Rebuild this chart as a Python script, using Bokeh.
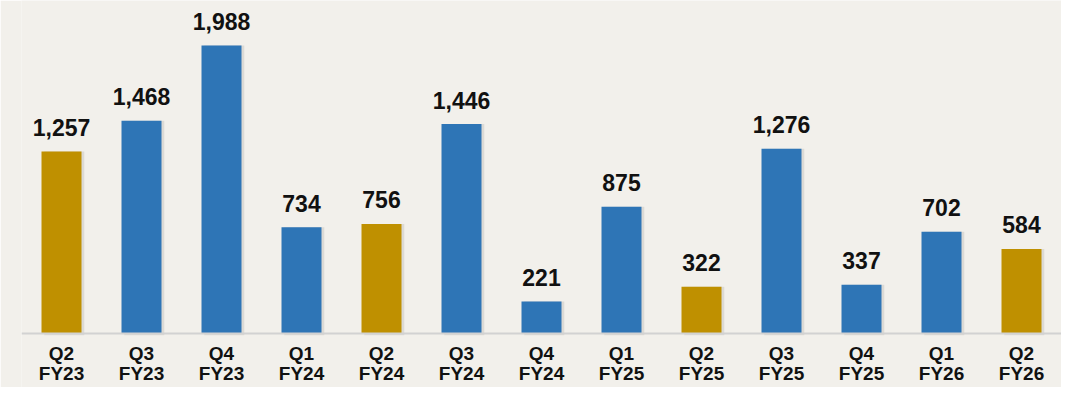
from bokeh.plotting import figure
from bokeh.models import ColumnDataSource, FactorRange, Range1d, Span
from bokeh.transform import dodge
from bokeh.core.properties import value
from bokeh.embed import file_html
from bokeh.resources import INLINE

quarters = ["Q2", "Q3", "Q4", "Q1", "Q2", "Q3", "Q4", "Q1", "Q2", "Q3", "Q4", "Q1", "Q2"]
years = ["FY23", "FY23", "FY23", "FY24", "FY24", "FY24", "FY24", "FY25", "FY25", "FY25", "FY25", "FY26", "FY26"]
values = [1257, 1468, 1988, 734, 756, 1446, 221, 875, 322, 1276, 337, 702, 584]

GOLD = "#bf9000"
BLUE = "#2e75b6"
BG = "#f2f0eb"

cats = [f"{q} {y}" for q, y in zip(quarters, years)]
colors = [GOLD if q == "Q2" else BLUE for q in quarters]
labels = [f"{v:,}" for v in values]

src = ColumnDataSource(dict(cat=cats, val=values, color=colors, label=labels,
                            q=quarters, fy=years, zero=[0] * len(cats)))

W, H = 1061, 387
p = figure(width=W, height=H, x_range=FactorRange(*cats, range_padding=0),
           y_range=Range1d(-373, 2299), output_backend="svg", toolbar_location=None,
           min_border_left=21, min_border_right=0, min_border_top=0, min_border_bottom=0)
p.background_fill_color = BG
p.border_fill_color = BG
p.outline_line_color = None
p.grid.visible = False
p.axis.visible = False

# soft shadow
p.vbar(x=dodge("cat", 0.035, range=p.x_range), top="val", bottom=-12, width=0.5,
       source=src, fill_color="black", fill_alpha=0.09, line_color=None)
p.vbar(x="cat", top="val", bottom=0, width=0.5, source=src,
       fill_color="color", line_color=None)

p.add_layout(Span(location=0, dimension="width", line_color="#d2d2d2", line_width=2))

p.text(x="cat", y="val", text="label", source=src, text_align="center",
       text_baseline="alphabetic", y_offset=-24, text_font=value("Liberation Sans"),
       text_font_style="bold", text_font_size="23px", text_color="#111111")
p.text(x="cat", y="zero", text="q", source=src, text_align="center",
       text_baseline="top", y_offset=10, text_font=value("Liberation Sans"),
       text_font_style="bold", text_font_size="19px", text_color="#111111")
p.text(x="cat", y="zero", text="fy", source=src, text_align="center",
       text_baseline="top", y_offset=30, text_font=value("Liberation Sans"),
       text_font_style="bold", text_font_size="19px", text_color="#111111")

open("out.html", "w").write(file_html(p, INLINE))
